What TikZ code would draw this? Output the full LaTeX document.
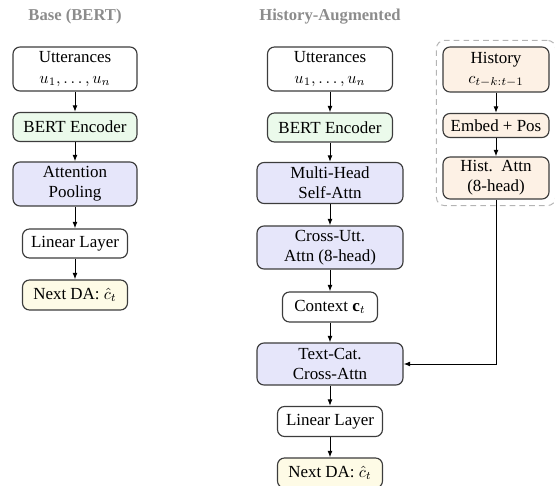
\documentclass[tikz,border=0pt]{standalone}
\usepackage{fontspec}
\setmainfont{Liberation Serif}
\usetikzlibrary{arrows.meta,fit}
\newlength\px
\setlength\px{0.6135pt}
\definecolor{bgreen}{HTML}{EBFAEB}
\definecolor{bblue}{HTML}{E6E6FA}
\definecolor{bpeach}{HTML}{FDF1E5}
\definecolor{byellow}{HTML}{FEFBE6}
\definecolor{bedge}{HTML}{3C3C3C}
\definecolor{btitle}{HTML}{8C8C8C}
\definecolor{bdash}{HTML}{B4B4B4}
\begin{document}
\begin{tikzpicture}[x=0.6135pt,y=-0.6135pt,
  box/.style={draw=bedge, line width=0.7pt, rounded corners=4.3pt, align=center, inner sep=1pt, font=\fontsize{10.4}{12.4}\selectfont},
  arr/.style={-{Latex[length=4pt,width=3pt]}, line width=0.6pt, black},
  ttl/.style={font=\fontsize{10.2}{12}\selectfont\bfseries, text=btitle},
  grp/.style={draw=bdash, dash pattern=on 3.5pt off 2.5pt, line width=0.6pt, rounded corners=5pt}]
\useasboundingbox (0,0) rectangle (555,486);

% Base column
\node[ttl] (t1) at (75,17) {Base (BERT)};
\node[box, minimum width=124\px, minimum height=44\px] (u1) at (75,69) {Utterances\\$u_1,\ldots,u_n$};
\node[box, fill=bgreen, minimum width=124\px, minimum height=29\px] (b1) at (75,127) {BERT Encoder};
\node[box, fill=bblue, minimum width=124\px, minimum height=44\px] (a1) at (75,184) {Attention\\Pooling};
\node[box, minimum width=105\px, minimum height=29\px] (l1) at (75,243.5) {Linear Layer};
\node[box, fill=byellow, minimum width=105\px, minimum height=30\px] (n1) at (75,295) {Next DA:~$\hat{c}_t$};
\draw[arr] (u1) -- (b1);
\draw[arr] (b1) -- (a1);
\draw[arr] (a1) -- (l1);
\draw[arr] (l1) -- (n1);

% History-augmented column
\node[ttl] (t2) at (330,17) {History-Augmented};
\node[box, minimum width=125\px, minimum height=44\px] (u2) at (330,69) {Utterances\\$u_1,\ldots,u_n$};
\node[box, fill=bgreen, minimum width=125\px, minimum height=29\px] (b2) at (330,127.5) {BERT Encoder};
\node[box, fill=bblue, minimum width=146\px, minimum height=41\px] (m2) at (330,183) {Multi-Head\\Self-Attn};
\node[box, fill=bblue, minimum width=146\px, minimum height=43\px] (c2) at (330,247.5) {Cross-Utt.\\Attn (8-head)};
\node[box, minimum width=95\px, minimum height=30\px] (ctx) at (330,307) {Context $\mathbf{c}_t$};
\node[box, fill=bblue, minimum width=146\px, minimum height=42\px] (tc) at (330,364) {Text-Cat.\\Cross-Attn};
\node[box, minimum width=105\px, minimum height=30\px] (l2) at (330,421.5) {Linear Layer};
\node[box, fill=byellow, minimum width=105\px, minimum height=30\px] (n2) at (330,473) {Next DA:~$\hat{c}_t$};
\draw[arr] (u2) -- (b2);
\draw[arr] (b2) -- (m2);
\draw[arr] (m2) -- (c2);
\draw[arr] (c2) -- (ctx);
\draw[arr] (ctx) -- (tc);
\draw[arr] (tc) -- (l2);
\draw[arr] (l2) -- (n2);

% History branch
\node[box, fill=bpeach, minimum width=106\px, minimum height=45\px] (h) at (496,69.5) {History\\$c_{t-k:t-1}$};
\node[box, fill=bpeach, minimum width=106\px, minimum height=24\px] (e) at (496,125.5) {Embed + Pos};
\node[box, fill=bpeach, minimum width=106\px, minimum height=42\px] (ha) at (496,178) {Hist.\ \ Attn\\(8-head)};
\node[grp, fit=(h)(e)(ha), inner sep=3.7pt] (g) {};
\draw[arr] (h) -- (e);
\draw[arr] (e) -- (ha);
\draw[arr] (ha.south) |- (tc.east);
\end{tikzpicture}
\end{document}
